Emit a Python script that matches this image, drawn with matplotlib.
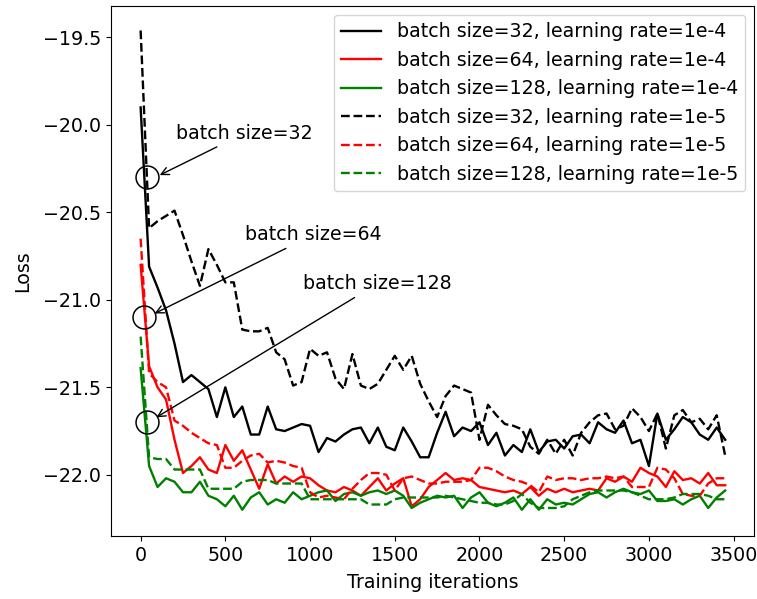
import numpy as np
import matplotlib
matplotlib.use("Agg")
import matplotlib.pyplot as plt

# iterations logged every 50 steps
iters = np.arange(0, 3500, 50)

# batch size 32 / 64 / 128, learning rate 1e-4
loss_32_lr4 = [-19.90, -20.81, -20.93, -21.06, -21.25, -21.47, -21.43, -21.47, -21.51, -21.67,
               -21.50, -21.67, -21.61, -21.77, -21.77, -21.61, -21.74, -21.75, -21.73, -21.71,
               -21.72, -21.87, -21.79, -21.81, -21.77, -21.74, -21.73, -21.82, -21.73, -21.84,
               -21.86, -21.73, -21.81, -21.90, -21.90, -21.76, -21.64, -21.78, -21.73, -21.75,
               -21.70, -21.83, -21.76, -21.89, -21.83, -21.87, -21.74, -21.87, -21.81, -21.80,
               -21.85, -21.78, -21.77, -21.82, -21.70, -21.74, -21.76, -21.69, -21.82, -21.80,
               -21.95, -21.65, -21.80, -21.74, -21.67, -21.70, -21.77, -21.80, -21.73, -21.80]
loss_64_lr4 = [-20.80, -21.38, -21.50, -21.57, -21.80, -21.99, -21.95, -21.90, -21.97, -21.99,
               -21.83, -21.92, -21.86, -21.97, -22.08, -21.94, -22.05, -22.01, -22.04, -22.01,
               -22.02, -22.06, -22.09, -22.10, -22.07, -22.09, -22.12, -22.07, -22.02, -22.09,
               -22.05, -22.02, -22.18, -22.14, -22.07, -22.03, -21.99, -22.03, -22.02, -22.03,
               -22.07, -22.08, -22.09, -22.10, -22.09, -22.11, -22.07, -22.12, -22.08, -22.10,
               -22.08, -22.10, -22.09, -22.08, -22.09, -22.02, -22.04, -22.01, -22.04, -21.96,
               -21.99, -22.01, -22.07, -21.98, -22.03, -22.02, -22.05, -21.99, -22.06, -22.06]
loss_128_lr4 = [-21.39, -21.95, -22.07, -22.02, -22.04, -22.10, -22.10, -22.04, -22.12, -22.14,
                -22.18, -22.12, -22.20, -22.13, -22.10, -22.17, -22.14, -22.16, -22.10, -22.14,
                -22.12, -22.10, -22.09, -22.15, -22.11, -22.10, -22.12, -22.10, -22.09, -22.11,
                -22.09, -22.12, -22.19, -22.16, -22.14, -22.12, -22.13, -22.12, -22.19, -22.13,
                -22.10, -22.16, -22.18, -22.16, -22.13, -22.20, -22.14, -22.20, -22.14, -22.17,
                -22.16, -22.17, -22.14, -22.11, -22.10, -22.13, -22.10, -22.08, -22.10, -22.11,
                -22.09, -22.15, -22.15, -22.14, -22.17, -22.14, -22.12, -22.19, -22.13, -22.09]

# same batch sizes, learning rate 1e-5
loss_32_lr5 = [-19.46, -20.59, -20.55, -20.52, -20.49, -20.63, -20.78, -20.92, -20.71, -20.80,
               -20.90, -20.90, -21.17, -21.18, -21.18, -21.16, -21.30, -21.34, -21.49, -21.47,
               -21.28, -21.32, -21.30, -21.45, -21.51, -21.31, -21.49, -21.51, -21.48, -21.40,
               -21.32, -21.40, -21.32, -21.48, -21.58, -21.67, -21.55, -21.49, -21.51, -21.53,
               -21.80, -21.60, -21.66, -21.71, -21.72, -21.74, -21.84, -21.88, -21.80, -21.88,
               -21.80, -21.89, -21.76, -21.70, -21.66, -21.65, -21.74, -21.72, -21.62, -21.67,
               -21.75, -21.65, -21.85, -21.66, -21.63, -21.70, -21.68, -21.74, -21.66, -21.89]
loss_64_lr5 = [-20.65, -21.42, -21.47, -21.50, -21.69, -21.72, -21.76, -21.79, -21.82, -21.83,
               -21.96, -21.96, -21.92, -21.89, -21.88, -21.93, -21.92, -21.93, -21.95, -21.96,
               -22.10, -22.13, -22.12, -22.13, -22.14, -22.08, -22.03, -21.99, -21.99, -22.00,
               -22.09, -22.02, -22.01, -22.03, -22.05, -22.05, -22.04, -22.04, -22.04, -22.03,
               -21.96, -21.96, -21.98, -22.01, -22.03, -22.04, -22.06, -22.10, -22.01, -22.03,
               -22.02, -22.02, -22.03, -22.02, -22.02, -22.01, -22.02, -22.01, -22.07, -22.07,
               -22.07, -21.96, -21.97, -22.02, -22.11, -22.12, -22.12, -22.05, -22.02, -22.02]
loss_128_lr5 = [-21.21, -21.90, -21.91, -21.91, -21.97, -21.97, -21.97, -21.97, -22.08, -22.08,
                -22.08, -22.08, -22.04, -22.03, -22.03, -22.03, -22.05, -22.05, -22.05, -22.05,
                -22.14, -22.14, -22.14, -22.14, -22.14, -22.14, -22.14, -22.17, -22.17, -22.17,
                -22.14, -22.13, -22.13, -22.13, -22.13, -22.13, -22.12, -22.13, -22.14, -22.15,
                -22.16, -22.16, -22.17, -22.17, -22.15, -22.11, -22.16, -22.19, -22.19, -22.19,
                -22.18, -22.14, -22.12, -22.10, -22.09, -22.09, -22.09, -22.09, -22.10, -22.12,
                -22.14, -22.14, -22.14, -22.13, -22.11, -22.11, -22.11, -22.12, -22.14, -22.14]

# annotation: label, circle centre, arrow tip, text position (baseline, left)
ann_labels = ["batch size=32", "batch size=64", "batch size=128"]
circle_xy = [(36, -20.30), (22, -21.10), (36, -21.70)]
arrow_xy = [(98, -20.294), (68, -21.085), (79, -21.68)]
text_xy = [(208, -20.08), (615, -20.66), (958, -20.94)]

plt.rcParams['font.size'] = 13.7

fig = plt.figure(figsize=(7.57, 5.99), dpi=100)
ax = fig.add_axes([0.1466, 0.1052, 0.8494, 0.8848])

lw = 1.7
ax.plot(iters, loss_32_lr4, color='black', lw=lw, label='batch size=32, learning rate=1e-4')
ax.plot(iters, loss_64_lr4, color='red', lw=lw, label='batch size=64, learning rate=1e-4')
ax.plot(iters, loss_128_lr4, color='green', lw=lw, label='batch size=128, learning rate=1e-4')
ax.plot(iters, loss_32_lr5, '--', color='black', lw=lw, label='batch size=32, learning rate=1e-5')
ax.plot(iters, loss_64_lr5, '--', color='red', lw=lw, label='batch size=64, learning rate=1e-5')
ax.plot(iters, loss_128_lr5, '--', color='green', lw=lw, label='batch size=128, learning rate=1e-5')

for lab, c, a, t in zip(ann_labels, circle_xy, arrow_xy, text_xy):
    ax.plot(c[0], c[1], 'o', mfc='none', mec='black', ms=16.5, mew=1.1)
    ax.annotate(lab, xy=a, xytext=t, ha='left', va='baseline',
                arrowprops=dict(arrowstyle='->', color='black', lw=1.0))

ax.set_xlim(-175, 3620)
ax.set_ylim(-22.35, -19.32)
ax.set_xlabel('Training iterations', labelpad=6)
ax.set_ylabel('Loss', labelpad=8)
ax.legend(loc='upper right', handlelength=2.1, borderaxespad=0.45)

fig.savefig('out.png', dpi=100)
